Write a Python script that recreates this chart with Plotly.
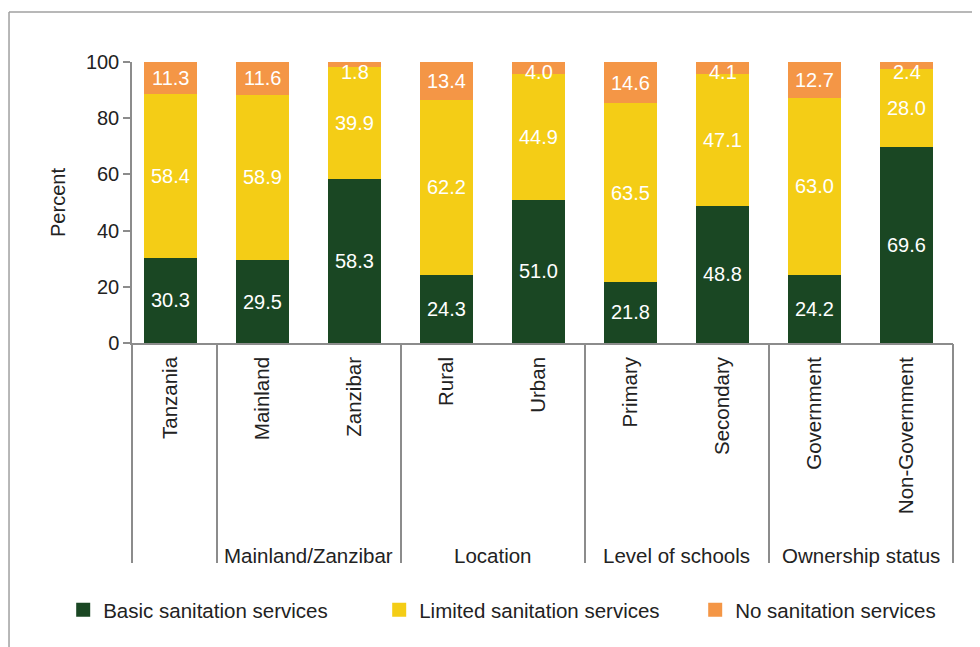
import plotly.graph_objects as go

categories = ["Tanzania", "Mainland", "Zanzibar", "Rural", "Urban",
              "Primary", "Secondary", "Government", "Non-Government"]
basic = [30.3, 29.5, 58.3, 24.3, 51.0, 21.8, 48.8, 24.2, 69.6]
limited = [58.4, 58.9, 39.9, 62.2, 44.9, 63.5, 47.1, 63.0, 28.0]
no_service = [11.3, 11.6, 1.8, 13.4, 4.0, 14.6, 4.1, 12.7, 2.4]
groups = ["Mainland/Zanzibar", "Location", "Level of schools", "Ownership status"]
group_centers = [1.5, 3.5, 5.5, 7.5]
separators = [-0.42, 0.5, 2.5, 4.5, 6.5, 8.5]
y_ticks = [0, 20, 40, 60, 80, 100]

GREEN = "#1A4723"
YELLOW = "#F4CD16"
ORANGE = "#F49646"
FONT = "Liberation Sans, Arial, sans-serif"
FS = 20
FS2 = 20.5

x = list(range(len(categories)))
fig = go.Figure()
series = [("Basic sanitation services", basic, GREEN),
          ("Limited sanitation services", limited, YELLOW),
          ("No sanitation services", no_service, ORANGE)]
for name, vals, col in series:
    fig.add_trace(go.Bar(x=x, y=vals, name=name, marker=dict(color=col, line=dict(width=0)),
                         width=0.576, hoverinfo="skip", showlegend=False, legendgroup=name))
# legend entries with larger square swatches
for name, vals, col in series:
    fig.add_trace(go.Scatter(x=[None], y=[None], name=name, mode="markers", legendgroup=name,
                             marker=dict(symbol="square", size=14, color=col),
                             hoverinfo="skip"))

# value labels
annotations = []
for i in x:
    base = 0
    total = basic[i] + limited[i] + no_service[i]
    for vals in (basic, limited, no_service):
        v = vals[i]
        yc = base + v / 2
        yc = min(yc, total - 3.5)
        annotations.append(dict(x=i, y=yc, xref="x", yref="y", text=f"{v:.1f}",
                                showarrow=False, font=dict(color="white", size=FS, family=FONT)))
        base += v

for g, c in zip(groups, group_centers):
    annotations.append(dict(x=c, y=-0.755, xref="x", yref="paper", text=g, showarrow=False,
                            font=dict(color="#222222", size=FS2, family=FONT), yanchor="middle"))

fig.update_layout(
    barmode="stack",
    width=972, height=639,
    margin=dict(l=124, r=27, t=54, b=304, autoexpand=False),
    plot_bgcolor="white", paper_bgcolor="white",
    font=dict(family=FONT, size=FS, color="#222222"),
    bargap=0,
    annotations=annotations,
    xaxis=dict(range=[-0.42, 8.505], tickvals=x, ticktext=categories, tickangle=-90,
               ticks="", showline=True, linecolor="#8c8c8c", linewidth=1.5,
               showgrid=False, zeroline=False, ticklabelstandoff=4, automargin=False,
               tickfont=dict(size=FS2, color="#222222")),
    xaxis2=dict(range=[-0.42, 8.505], overlaying="x", side="bottom", tickvals=separators,
                ticktext=[""] * len(separators), ticks="outside", ticklen=219,
                tickcolor="#8c8c8c", tickwidth=1.5, showgrid=False, zeroline=False,
                showline=False, automargin=False),
    yaxis=dict(range=[0, 100], tickvals=y_ticks, ticks="outside", ticklen=7,
               tickcolor="#8c8c8c", tickwidth=1.5, showline=True, linecolor="#8c8c8c",
               linewidth=1.5, showgrid=False, zeroline=False, automargin=False,
               title=dict(text="Percent", standoff=15, font=dict(size=FS)),
               tickfont=dict(size=FS, color="#222222")),
    legend=dict(orientation="h", x=-0.0838, y=-0.95, xanchor="left", yanchor="middle",
                entrywidth=271, entrywidthmode="pixels", font=dict(size=FS2, family=FONT),
                traceorder="normal", bgcolor="rgba(0,0,0,0)", itemwidth=30),
    showlegend=True,
    shapes=[
        dict(type="line", xref="paper", yref="paper", x0=-0.1498, x1=1.1, y0=1.178, y1=1.178,
             line=dict(color="#a0a0a0", width=1.5)),
        dict(type="line", xref="paper", yref="paper", x0=-0.1498, x1=-0.1498, y0=1.178, y1=-1.2,
             line=dict(color="#a0a0a0", width=1.5)),
    ],
)
fig.add_trace(go.Scatter(x=[0], y=[0], xaxis="x2", mode="markers", marker=dict(opacity=0),
                         showlegend=False, hoverinfo="skip"))

fig.write_html("out.html")
